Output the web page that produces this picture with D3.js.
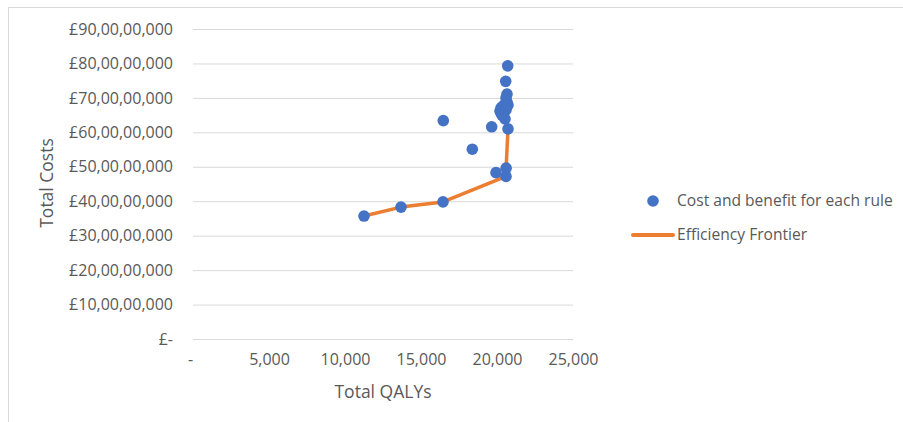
<!DOCTYPE html>
<html>
<head>
<meta charset="utf-8">
<script src="https://cdn.jsdelivr.net/npm/d3@7"></script>
<style>
  body { margin: 0; background: #fff; }
  svg { display: block; font-family: "Open Sans", sans-serif; }
</style>
</head>
<body>
<svg id="chart" width="903" height="422"></svg>
<script>
// 각 규칙별 비용/편익 (QALYs, £)
const ruleQalys = [11250, 13684, 16447, 20592, 20600, 20724, 19934, 18375, 16467, 19651,
  20704, 20572, 20658, 20592, 20658, 20526, 20395, 20263, 20197, 20263, 20461, 20329, 20592, 20724, 20526];
const ruleCosts = [357e6, 383e6, 398e6, 472e6, 496e6, 610e6, 483e6, 551e6, 634e6, 616e6,
  793e6, 748e6, 711e6, 700e6, 688e6, 682e6, 676e6, 671e6, 662e6, 656e6, 659e6, 650e6, 665e6, 679e6, 639e6];

// efficiency frontier
const frontierQalys = [11250, 13684, 16447, 20592, 20600, 20724];
const frontierCosts = [357e6, 383e6, 398e6, 472e6, 496e6, 610e6];

const xTicks = [0, 5000, 10000, 15000, 20000, 25000];
const yTicks = [0, 1e8, 2e8, 3e8, 4e8, 5e8, 6e8, 7e8, 8e8, 9e8];
const legendLabels = ['Cost and benefit for each rule', 'Efficiency Frontier'];

const textColor = '#595959';
const gridColor = '#d9d9d9';
const dotColor = '#4472c4';
const lineColor = '#ed7d31';

// 인도식 자릿수 구분 (12,34,56,789)
function indianFormat(n) {
  const s = String(Math.round(n));
  if (s.length <= 3) return s;
  let head = s.slice(0, -3), tail = s.slice(-3);
  const parts = [];
  while (head.length > 2) { parts.unshift(head.slice(-2)); head = head.slice(0, -2); }
  if (head) parts.unshift(head);
  return parts.join(',') + ',' + tail;
}

const svg = d3.select('#chart');
const [plotLeft, plotRight, plotTop, plotBottom] = [193, 573, 29, 339];

const x = d3.scaleLinear([0, 25000], [plotLeft, plotRight]);
const y = d3.scaleLinear([0, 9e8], [plotBottom, plotTop]);

// chart area border
svg.append('rect')
  .attr('x', 8.5).attr('y', 7.5)
  .attr('width', 903).attr('height', 422)
  .attr('fill', 'none').attr('stroke', gridColor);

// gridlines + y labels
svg.append('g')
  .attr('transform', `translate(${plotLeft},0)`)
  .call(d3.axisLeft(y).tickValues(yTicks).tickSize(-(plotRight - plotLeft)).tickPadding(20)
    .tickFormat(d => d === 0 ? '£-' : '£' + indianFormat(d)))
  .call(g => g.select('.domain').remove())
  .call(g => g.selectAll('.tick line').attr('stroke', gridColor).attr('stroke-width', 1))
  .call(g => g.selectAll('.tick text').attr('fill', textColor).attr('font-size', 16)
    .attr('font-family', '"Open Sans", sans-serif'));

// x labels
svg.append('g')
  .attr('transform', `translate(0,${plotBottom})`)
  .call(d3.axisBottom(x).tickValues(xTicks).tickSize(0).tickPadding(15)
    .tickFormat(d => d === 0 ? '-' : d3.format(',')(d)))
  .call(g => g.select('.domain').remove())
  .call(g => g.selectAll('.tick text').attr('fill', textColor).attr('font-size', 16)
    .attr('font-family', '"Open Sans", sans-serif')
    .attr('dx', d => d === 0 ? -3 : 0));

// axis titles
svg.append('text')
  .attr('x', 383).attr('y', 398)
  .attr('text-anchor', 'middle')
  .attr('fill', textColor).attr('font-size', 17.5)
  .text('Total QALYs');

svg.append('text')
  .attr('transform', 'translate(53,183) rotate(-90)')
  .attr('text-anchor', 'middle')
  .attr('fill', textColor).attr('font-size', 17.5)
  .text('Total Costs');

// frontier line
const frontier = frontierQalys.map((q, i) => ({ q, c: frontierCosts[i] }));
svg.append('path')
  .datum(frontier)
  .attr('fill', 'none')
  .attr('stroke', lineColor)
  .attr('stroke-width', 3.5)
  .attr('stroke-linejoin', 'round')
  .attr('d', d3.line(d => x(d.q), d => y(d.c)));

// rule points
svg.append('g')
  .selectAll('circle')
  .data(ruleQalys.map((q, i) => ({ q, c: ruleCosts[i] })))
  .join('circle')
  .attr('cx', d => x(d.q))
  .attr('cy', d => y(d.c))
  .attr('r', 5.8)
  .attr('fill', dotColor);

// legend
const legend = svg.append('g');
legend.append('circle').attr('cx', 653).attr('cy', 201).attr('r', 5.8).attr('fill', dotColor);
legend.append('line')
  .attr('x1', 633).attr('x2', 673).attr('y1', 235).attr('y2', 235)
  .attr('stroke', lineColor).attr('stroke-width', 4).attr('stroke-linecap', 'round');
legend.selectAll('text')
  .data(legendLabels)
  .join('text')
  .attr('x', 677)
  .attr('y', (d, i) => 201 + i * 34)
  .attr('dy', '0.35em')
  .attr('fill', textColor)
  .attr('font-size', 15.6)
  .text(d => d);
</script>
</body>
</html>
